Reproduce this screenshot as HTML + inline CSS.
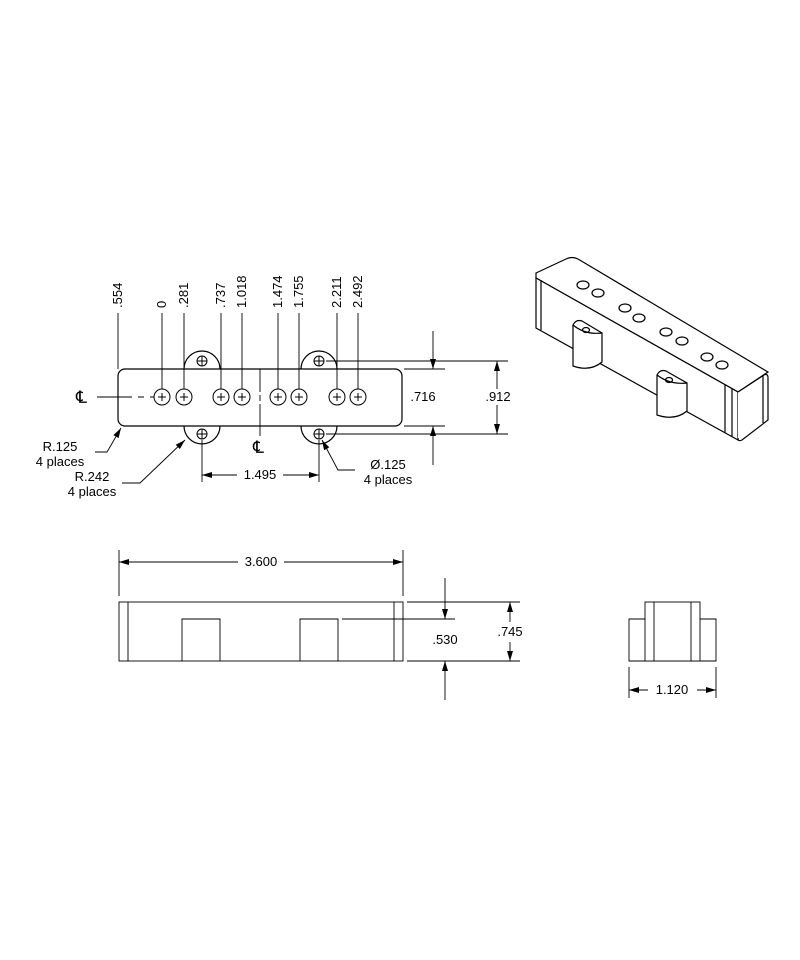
<!DOCTYPE html>
<html><head><meta charset="utf-8"><style>
html,body{margin:0;padding:0;background:#fff}
svg{display:block}
text{font-family:"Liberation Sans",Arial,sans-serif;font-size:13px;fill:#000}
</style></head><body>
<svg width="800" height="960" viewBox="0 0 800 960" xmlns="http://www.w3.org/2000/svg">
<defs>
<marker id="a" viewBox="0 0 10 6" refX="10" refY="3" markerWidth="10" markerHeight="6" orient="auto-start-reverse" markerUnits="userSpaceOnUse"><path d="M0,0 L10,3 L0,6 z" fill="#000"/></marker>
</defs>
<g stroke="#000" stroke-width="1.2" fill="none">
<path d="M184,369 A18,18 0 0 1 220,369"/>
<path d="M301,369 A18,18 0 0 1 337,369"/>
<path d="M184,426 A18,18 0 0 0 220,426"/>
<path d="M301,426 A18,18 0 0 0 337,426"/>
<rect x="118" y="369" width="284" height="57" rx="7" fill="#fff"/>
<g stroke-width="1">
<circle cx="202" cy="361" r="5"/><path d="M197,361h10M202,356v10"/>
<circle cx="319" cy="361" r="5"/><path d="M314,361h10M319,356v10"/>
<circle cx="202" cy="434" r="5"/><path d="M197,434h10M202,429v10"/>
<circle cx="319" cy="434" r="5"/><path d="M314,434h10M319,429v10"/>
</g>
<g stroke-width="1">
<circle cx="162" cy="397" r="8"/><path d="M158,397h8M162,393v8"/>
<circle cx="184" cy="397" r="8"/><path d="M180,397h8M184,393v8"/>
<circle cx="221" cy="397" r="8"/><path d="M217,397h8M221,393v8"/>
<circle cx="242" cy="397" r="8"/><path d="M238,397h8M242,393v8"/>
<circle cx="278" cy="397" r="8"/><path d="M274,397h8M278,393v8"/>
<circle cx="299" cy="397" r="8"/><path d="M295,397h8M299,393v8"/>
<circle cx="337" cy="397" r="8"/><path d="M333,397h8M337,393v8"/>
<circle cx="358" cy="397" r="8"/><path d="M354,397h8M358,393v8"/>
</g>
<g stroke-width="0.9">
<path d="M118,313V369M162,313V389M184,313V389M221,313V389M242,313V389M278,313V389M299,313V389M337,313V389M358,313V389"/>
<path d="M97,397H132M138,397H144M150,397H154"/>
<path d="M260,369V392M260,395V401M260,404V436"/>
<path d="M404,369H445M404,426H445"/>
<path d="M433,331V369" marker-end="url(#a)"/>
<path d="M433,465V426" marker-end="url(#a)"/>
<path d="M326,361H508M326,434H508"/>
<path d="M497,389V361" marker-end="url(#a)"/>
<path d="M497,405V434" marker-end="url(#a)"/>
<path d="M202,440V482M319,440V482"/>
<path d="M237,475H202" marker-end="url(#a)"/>
<path d="M283,475H319" marker-end="url(#a)"/>
<path d="M95,452H107L121,428" marker-end="url(#a)"/>
<path d="M122,483H140L185,440" marker-end="url(#a)"/>
<path d="M355,470H338L322,440" marker-end="url(#a)"/>
<rect x="119" y="602" width="284" height="59"/>
<path d="M128,602V661M394,602V661"/>
<path d="M182,661V619H220V661M300,661V619H338V661"/>
<path d="M342,619H455"/>
<path d="M119,550V596M403,550V596"/>
<path d="M238,562H119" marker-end="url(#a)"/>
<path d="M284,562H403" marker-end="url(#a)"/>
<path d="M407,602H520M407,661H520"/>
<path d="M445,578V619" marker-end="url(#a)"/>
<path d="M445,700V661" marker-end="url(#a)"/>
<path d="M510,622V602" marker-end="url(#a)"/>
<path d="M510,642V661" marker-end="url(#a)"/>
<path d="M629,619H716V661H629Z"/>
<rect x="645" y="602" width="55" height="59" fill="#fff"/>
<path d="M654,602V661M691,602V661"/>
<path d="M629,667V698M716,667V698"/>
<path d="M648,690H629" marker-end="url(#a)"/>
<path d="M697,690H716" marker-end="url(#a)"/>
</g>
<g stroke-width="1.2">
<path d="M536,273 L566,259 Q572,256 578,259 L768,372 L738,392 L536,278 Z" fill="#fff"/>
<path d="M536,278 V328 L738,440 V392 Z" fill="#fff"/>
<path d="M738,392 L764,375 Q768,373 768,378 V420 L742,440 Q738,442 738,438" fill="#fff"/>
<path d="M541,280V330M725,385V433M732,389V437M763,375V423"/>
<ellipse cx="583" cy="285" rx="6" ry="4"/><ellipse cx="598" cy="293" rx="6" ry="4"/>
<ellipse cx="625" cy="308" rx="6" ry="4"/><ellipse cx="639" cy="318" rx="6" ry="4"/>
<ellipse cx="666" cy="332" rx="6" ry="4"/><ellipse cx="682" cy="341" rx="6" ry="4"/>
<ellipse cx="707" cy="357" rx="6" ry="4"/><ellipse cx="722" cy="365" rx="6" ry="4"/>
<path d="M573,325 Q576,319 582,321 L602,333 V362 Q590,372 573,366 Z" fill="#fff"/>
<path d="M573,325 Q585,335 602,333"/>
<ellipse cx="586" cy="330" rx="3.5" ry="2.5"/>
<path d="M657,375 Q660,369 666,371 L687,383 V411 Q675,421 657,415 Z" fill="#fff"/>
<path d="M657,375 Q670,385 687,383"/>
<ellipse cx="669" cy="380" rx="3.5" ry="2.5"/>
</g>
</g>
<g>
<text transform="translate(122,308) rotate(-90)">.554</text>
<text transform="translate(166,308) rotate(-90)">0</text>
<text transform="translate(188,308) rotate(-90)">.281</text>
<text transform="translate(225,308) rotate(-90)">.737</text>
<text transform="translate(246,308) rotate(-90)">1.018</text>
<text transform="translate(282,308) rotate(-90)">1.474</text>
<text transform="translate(303,308) rotate(-90)">1.755</text>
<text transform="translate(341,308) rotate(-90)">2.211</text>
<text transform="translate(362,308) rotate(-90)">2.492</text>
<text x="76" y="403" style="font-size:17px">℄</text>
<text x="253" y="453" style="font-size:17px">℄</text>
<text x="423" y="401" text-anchor="middle">.716</text>
<text x="498" y="401" text-anchor="middle">.912</text>
<text x="260" y="479" text-anchor="middle">1.495</text>
<text x="60" y="451" text-anchor="middle">R.125</text>
<text x="60" y="466" text-anchor="middle">4 places</text>
<text x="92" y="481" text-anchor="middle">R.242</text>
<text x="92" y="496" text-anchor="middle">4 places</text>
<text x="388" y="469" text-anchor="middle">Ø.125</text>
<text x="388" y="484" text-anchor="middle">4 places</text>
<text x="261" y="566" text-anchor="middle">3.600</text>
<text x="445" y="644" text-anchor="middle">.530</text>
<text x="510" y="636" text-anchor="middle">.745</text>
<text x="672" y="694" text-anchor="middle">1.120</text>
</g>
</svg>
</body></html>
